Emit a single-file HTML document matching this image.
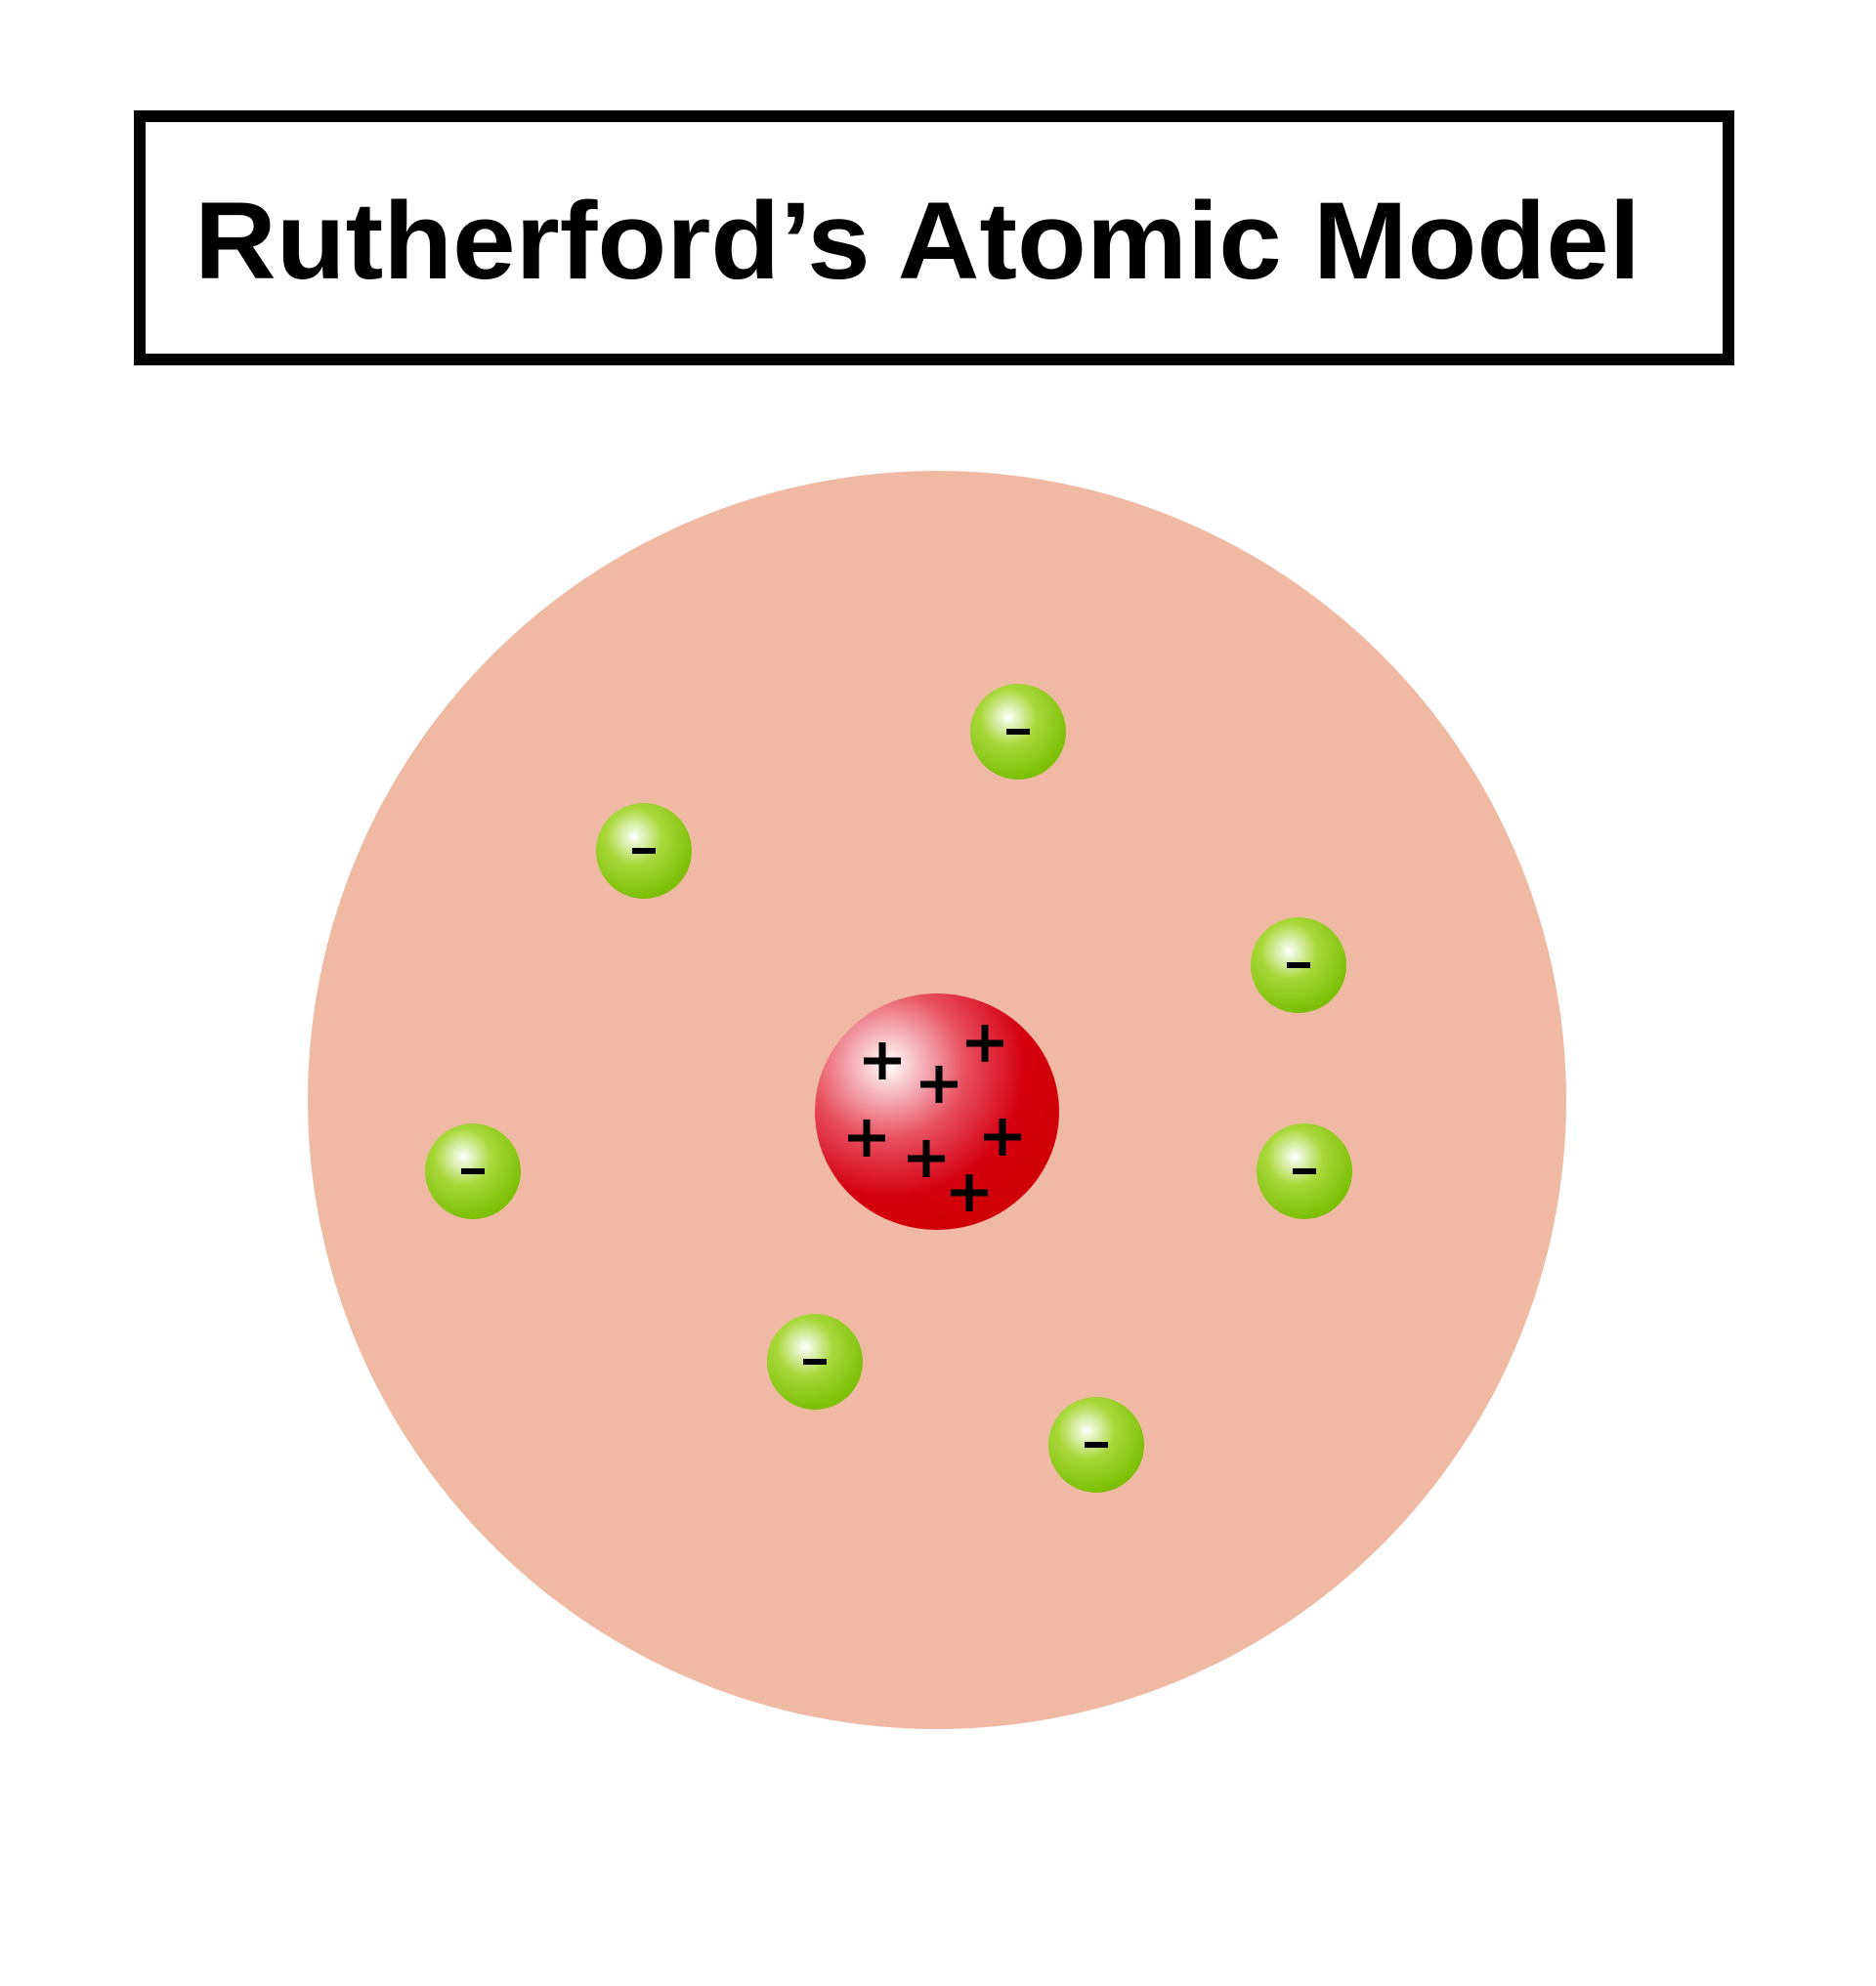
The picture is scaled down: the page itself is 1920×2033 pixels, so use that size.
<!DOCTYPE html>
<html><head><meta charset="utf-8"><style>
html,body{margin:0;padding:0;background:#fff;}
svg{display:block;}
</style></head><body>
<svg width="1920" height="2033" viewBox="0 0 1920 2033" xmlns="http://www.w3.org/2000/svg">
<defs>
<radialGradient id="g" cx="0.4" cy="0.35" r="0.65">
<stop offset="0" stop-color="#ffffff"/>
<stop offset="0.45" stop-color="#a8d83a"/>
<stop offset="1" stop-color="#7cbf06"/>
</radialGradient>
<radialGradient id="r" cx="0.3" cy="0.3" r="0.7">
<stop offset="0" stop-color="#ffffff"/>
<stop offset="0.45" stop-color="#e85060"/>
<stop offset="0.8" stop-color="#d40010"/>
<stop offset="1" stop-color="#d00008"/>
</radialGradient>
</defs>
<g transform="translate(-4,-3)">
<rect x="147" y="122" width="1626" height="249" fill="none" stroke="#000" stroke-width="12"/>
<text x="943" y="288" text-anchor="middle" font-family="Liberation Sans, sans-serif" font-weight="bold" font-size="112" textLength="1480" lengthAdjust="spacingAndGlyphs" fill="#000">Rutherford’s  Atomic Model</text>
<circle cx="963" cy="1129" r="644" fill="#f0b9a3"/>
<ellipse cx="963" cy="1141" rx="125" ry="121" fill="url(#r)"/>
<g stroke="#000" stroke-width="7" fill="none">
<path d="M888 1089h38M907 1070v38"/>
<path d="M993 1071h38M1012 1052v38"/>
<path d="M946 1113h38M965 1094v38"/>
<path d="M872 1168h38M891 1149v38"/>
<path d="M1011 1167h38M1030 1148v38"/>
<path d="M933 1189h38M952 1170v38"/>
<path d="M977 1224h38M996 1205v38"/>
</g>
<g fill="url(#g)">
<circle cx="1046" cy="752" r="49"/>
<circle cx="663" cy="874" r="49"/>
<circle cx="1333" cy="991" r="49"/>
<circle cx="488" cy="1202" r="49"/>
<circle cx="1339" cy="1202" r="49"/>
<circle cx="838" cy="1397" r="49"/>
<circle cx="1126" cy="1482" r="49"/>
</g>
<g stroke="#000" stroke-width="6">
<path d="M1034 752h24"/>
<path d="M651 874h24"/>
<path d="M1321 991h24"/>
<path d="M476 1202h24"/>
<path d="M1327 1202h24"/>
<path d="M826 1397h24"/>
<path d="M1114 1482h24"/>
</g>
</g>
</svg>
</body></html>
